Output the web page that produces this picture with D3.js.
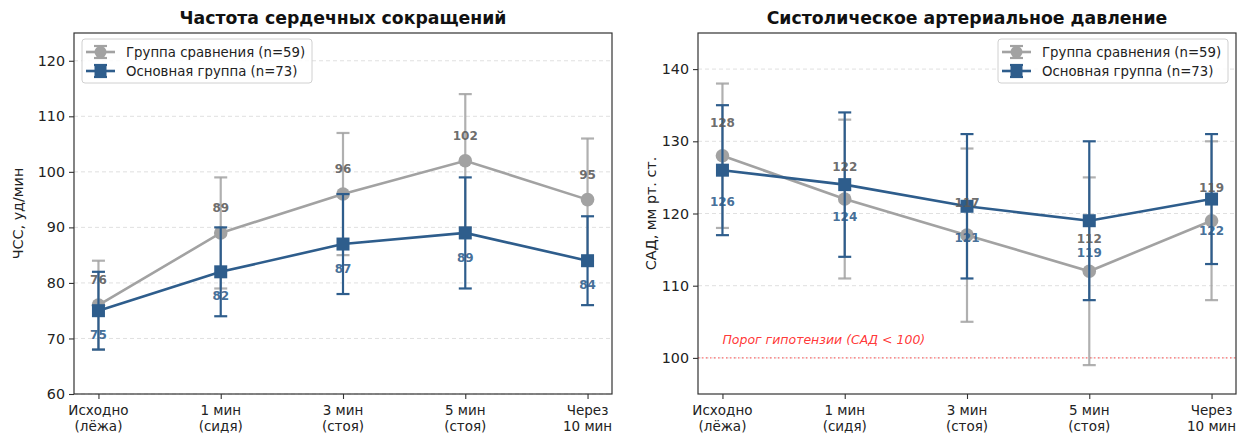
<!DOCTYPE html>
<html><head><meta charset="utf-8">
<script src="https://cdn.jsdelivr.net/npm/d3@7"></script>
<style>
body{margin:0;background:#fff;}
svg{display:block;font-family:"DejaVu Sans",sans-serif;}
</style></head>
<body><svg id="chart" width="1242" height="434"></svg>
<script>
const categories = [["Исходно","(лёжа)"],["1 мин","(сидя)"],["3 мин","(стоя)"],["5 мин","(стоя)"],["Через","10 мин"]];
const seriesNames = ["Группа сравнения (n=59)", "Основная группа (n=73)"];
// Heart rate
const hrControl = [76, 89, 96, 102, 95];
const hrControlSD = [8, 10, 11, 12, 11];
const hrMain = [75, 82, 87, 89, 84];
const hrMainSD = [7, 8, 9, 10, 8];
const hrTicks = [60, 70, 80, 90, 100, 110, 120];
// Systolic BP
const sbpControl = [128, 122, 117, 112, 119];
const sbpControlSD = [10, 11, 12, 13, 11];
const sbpMain = [126, 124, 121, 119, 122];
const sbpMainSD = [9, 10, 10, 11, 9];
const sbpTicks = [100, 110, 120, 130, 140];
const hypoThreshold = 100;

const GRAY = "#a2a2a2", BLUE = "#2e5d8c", GRAYTXT = "#5a5a5a";
const svg = d3.select("#chart");

function panel(o){
  const g = svg.append("g");
  const x = d3.scaleLinear().domain([-0.2, categories.length - 1 + 0.2]).range([o.x0, o.x1]);
  const y = d3.scaleLinear().domain(o.yDomain).range([394, 33]);
  // grid
  g.selectAll(".grid").data(o.ticks).join("line")
    .attr("x1", o.x0).attr("x2", o.x1).attr("y1", d=>y(d)).attr("y2", d=>y(d))
    .attr("stroke", "#dcdcdc").attr("stroke-width", 0.9).attr("stroke-dasharray", "4,3");
  // threshold
  if (o.threshold !== undefined) {
    g.append("line").attr("x1", o.x0).attr("x2", o.x1).attr("y1", y(o.threshold)).attr("y2", y(o.threshold))
      .attr("stroke", "#ff4040").attr("stroke-opacity", 0.75).attr("stroke-width", 1.3).attr("stroke-dasharray", "1.5,2.5");
    g.append("text").attr("x", x(0)).attr("y", y(o.threshold + 2.5)).attr("dy", "0.35em")
      .attr("fill", "#ff2020").attr("fill-opacity", 0.9).attr("font-size", 12.5).attr("font-style", "italic")
      .text("Порог гипотензии (САД < 100)");
  }
  const series = [
    {v:o.a, sd:o.asd, color:GRAY, txt:GRAYTXT, shape:"circle", off:4.5},
    {v:o.b, sd:o.bsd, color:BLUE, txt:BLUE, shape:"square", off:-4.4}
  ];
  series.forEach(s=>{
    const sg = g.append("g");
    const line = d3.line().x((d,i)=>x(i)).y(d=>y(d));
    sg.append("path").datum(s.v).attr("d", line).attr("fill","none").attr("stroke", s.color).attr("stroke-width", 2.6);
    // error bars
    s.v.forEach((d,i)=>{
      const eg = sg.append("g").attr("stroke", s.color).attr("stroke-width", 2.2).attr("stroke-opacity", s.shape==="circle"?0.85:1);
      eg.append("line").attr("x1", x(i)).attr("x2", x(i)).attr("y1", y(d - s.sd[i])).attr("y2", y(d + s.sd[i]));
      [d - s.sd[i], d + s.sd[i]].forEach(e=>{
        eg.append("line").attr("x1", x(i)-6.5).attr("x2", x(i)+6.5).attr("y1", y(e)).attr("y2", y(e));
      });
    });
    // markers
    if (s.shape === "circle") {
      sg.selectAll("circle").data(s.v).join("circle").attr("cx",(d,i)=>x(i)).attr("cy",d=>y(d)).attr("r",6.8).attr("fill", s.color);
    } else {
      sg.selectAll("rect").data(s.v).join("rect").attr("x",(d,i)=>x(i)-6.5).attr("y",d=>y(d)-6.5).attr("width",13).attr("height",13).attr("fill", s.color);
    }
  });
  series.forEach(s=>{
    g.selectAll(null).data(s.v).join("text")
      .attr("x",(d,i)=>x(i)).attr("y",d=>y(d + s.off)).attr("dy","0.35em")
      .attr("text-anchor","middle").attr("font-size", 12).attr("font-weight","bold")
      .attr("fill", s.txt).attr("fill-opacity", 0.9).text(d=>d);
  });
  // axes
  const ya = d3.axisLeft(y).tickValues(o.ticks).tickSize(5).tickPadding(4);
  const yg = g.append("g").attr("transform", `translate(${o.x0},0)`).call(ya);
  yg.select(".domain").remove();
  yg.selectAll("text").attr("font-size", 14.3).attr("fill", "#222").attr("font-family", "DejaVu Sans");
  yg.selectAll("line").attr("stroke", "#333").attr("stroke-width", 1.1);
  const xa = d3.axisBottom(x).tickValues(d3.range(categories.length)).tickSize(5).tickFormat("");
  const xg = g.append("g").attr("transform", `translate(0,394)`).call(xa);
  xg.select(".domain").remove();
  xg.selectAll("line").attr("stroke", "#333").attr("stroke-width", 1.1);
  categories.forEach((c,i)=>{
    const t = g.append("text").attr("x", x(i)).attr("y", 415).attr("text-anchor","middle").attr("font-size", 13.5).attr("fill","#222");
    t.append("tspan").attr("x", x(i)).text(c[0]);
    t.append("tspan").attr("x", x(i)).attr("dy", 16).text(c[1]);
  });
  // frame
  g.append("rect").attr("x", o.x0).attr("y", 33).attr("width", o.x1 - o.x0).attr("height", 394 - 33)
    .attr("fill","none").attr("stroke","#333").attr("stroke-width", 1.2);
  // title
  g.append("text").attr("x", (o.x0+o.x1)/2).attr("y", 24).attr("text-anchor","middle")
    .attr("font-size", 17.3).attr("font-weight","bold").attr("fill","#111").text(o.title);
  // y label
  g.append("text").attr("transform", `translate(${o.ylx},213.5) rotate(-90)`).attr("text-anchor","middle")
    .attr("dy","0.35em").attr("font-size", 14.3).attr("fill","#222").text(o.ylabel);
  // legend
  const lg = g.append("g").attr("transform", `translate(${o.lx},${o.ly})`);
  lg.append("rect").attr("width", 230).attr("height", 44).attr("rx", 3)
    .attr("fill","#fff").attr("fill-opacity",0.85).attr("stroke","#d0d0d0").attr("stroke-width",1);
  series.forEach((s,k)=>{
    const cy = 13 + k*19;
    lg.append("line").attr("x1", 4).attr("x2", 33).attr("y1", cy).attr("y2", cy).attr("stroke", s.color).attr("stroke-width", 2.6);
    lg.append("line").attr("x1", 18.5).attr("x2", 18.5).attr("y1", cy-6).attr("y2", cy+6).attr("stroke", s.color).attr("stroke-width", 2.2);
    lg.append("line").attr("x1", 12).attr("x2", 25).attr("y1", cy-6).attr("y2", cy-6).attr("stroke", s.color).attr("stroke-width", 2.2);
    lg.append("line").attr("x1", 12).attr("x2", 25).attr("y1", cy+6).attr("y2", cy+6).attr("stroke", s.color).attr("stroke-width", 2.2);
    if (s.shape==="circle") lg.append("circle").attr("cx",18.5).attr("cy",cy).attr("r",6).attr("fill",s.color);
    else lg.append("rect").attr("x",12.5).attr("y",cy-6).attr("width",12).attr("height",12).attr("fill",s.color);
    lg.append("text").attr("x", 44).attr("y", cy).attr("dy","0.35em").attr("font-size", 13.3).attr("fill","#222").text(seriesNames[k]);
  });
}

panel({x0:74, x1:612, yDomain:[60,125], ticks:hrTicks, a:hrControl, asd:hrControlSD, b:hrMain, bsd:hrMainSD,
  title:"Частота сердечных сокращений", ylabel:"ЧСС, уд/мин", ylx:18, lx:82, ly:39});
panel({x0:698, x1:1236, yDomain:[95,145], ticks:sbpTicks, a:sbpControl, asd:sbpControlSD, b:sbpMain, bsd:sbpMainSD,
  title:"Систолическое артериальное давление", ylabel:"САД, мм рт. ст.", ylx:651, lx:998, ly:39, threshold:hypoThreshold});
</script></body></html>
